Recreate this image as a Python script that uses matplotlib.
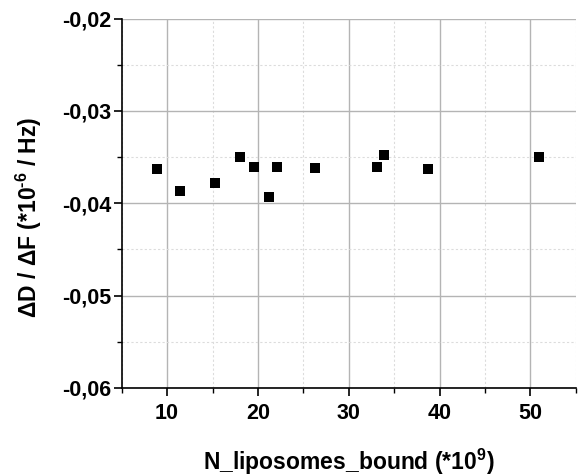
import matplotlib
matplotlib.use("Agg")
import matplotlib.pyplot as plt
from matplotlib.ticker import MultipleLocator, FuncFormatter

plt.rcParams['font.family'] = ['Liberation Sans', 'DejaVu Sans']
plt.rcParams['font.weight'] = 'bold'
plt.rcParams['mathtext.fontset'] = 'custom'
plt.rcParams['mathtext.rm'] = 'Liberation Sans:bold'
plt.rcParams['mathtext.bf'] = 'Liberation Sans:bold'
plt.rcParams['mathtext.default'] = 'bf'
plt.rcParams['axes.unicode_minus'] = False

n_liposomes = [8.9, 11.4, 15.3, 18.05, 19.6, 21.2, 22.1, 26.25, 33.15, 33.9, 38.7, 50.98]
dd_df = [-0.0363, -0.0387, -0.0378, -0.0350, -0.0361, -0.0393, -0.0361, -0.0362,
         -0.0361, -0.0348, -0.0363, -0.0350]

fig = plt.figure(figsize=(5.8, 4.76), dpi=100)
ax = fig.add_axes([0.2098, 0.1849, 0.783, 0.7761])

ax.scatter(n_liposomes, dd_df, marker='s', s=42, color='black', zorder=3, linewidths=0)

ax.set_xlim(5, 55)
ax.set_ylim(-0.06, -0.02)
ax.xaxis.set_major_locator(MultipleLocator(10))
ax.xaxis.set_minor_locator(MultipleLocator(5))
ax.yaxis.set_major_locator(MultipleLocator(0.01))
ax.yaxis.set_minor_locator(MultipleLocator(0.005))
ax.yaxis.set_major_formatter(FuncFormatter(lambda v, p: ("%.2f" % v).replace('.', ',')))

ax.grid(which='major', color='#b4b4b4', linewidth=1.0, linestyle='-')
ax.grid(which='minor', color='#dcdcdc', linewidth=0.8, linestyle=(0, (2, 2)))
ax.set_axisbelow(True)

for s in ['top', 'right']:
    ax.spines[s].set_visible(False)
for s in ['left', 'bottom']:
    ax.spines[s].set_linewidth(1.2)

ax.tick_params(which='major', direction='out', length=5.5, width=1.2, labelsize=15.5, pad=2)
ax.tick_params(which='minor', direction='out', length=3.5, width=1.0)
ax.tick_params(axis='x', which='major', pad=5)
for lab in ax.get_xticklabels() + ax.get_yticklabels():
    lab.set_fontweight('bold')

ax.set_xlabel(r'N_liposomes_bound (*10$^{9}$)', fontsize=16.5, fontweight='bold', labelpad=17)
ax.set_ylabel(r'ΔD / ΔF (*10$^{\text{-6}}$ / Hz)', fontsize=16.5, fontweight='bold', labelpad=13)
ax.yaxis.label.set_y(0.462)

fig.savefig('out.png', dpi=100)
